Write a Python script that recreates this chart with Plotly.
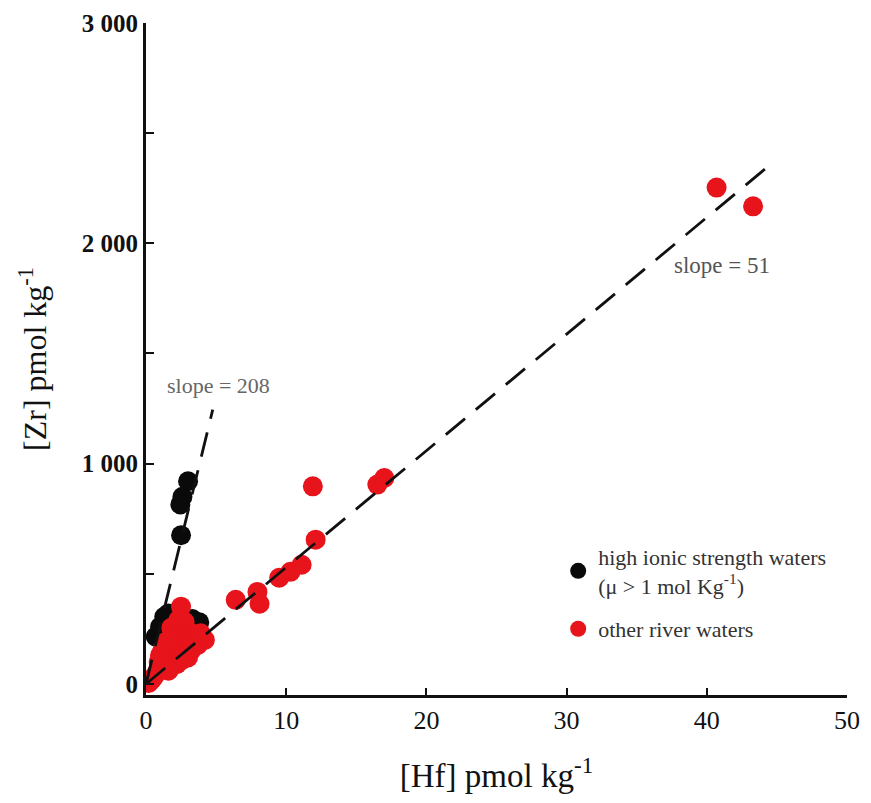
import plotly.graph_objects as go

# ---- data ----
# high ionic strength waters (mu > 1 mol/kg)
high_hf = [3.0, 2.6, 2.45, 2.5, 1.3, 0.7, 1.0, 2.0, 3.3, 3.8, 1.6]
high_zr = [920, 850, 815, 675, 305, 215, 260, 300, 295, 280, 320]

# other river waters
river_hf = [40.7, 43.3, 11.9, 16.5, 17.0, 12.1, 10.3, 11.1, 9.5, 7.95, 8.1, 6.4,
            2.5, 0.2, 0.4, 0.8, 1.2, 1.7, 1.5, 2.1, 2.5, 2.0, 2.8, 3.25, 3.7, 4.2,
            2.4, 3.1, 1.8, 2.75, 1.0, 1.4, 2.2, 3.0, 3.5, 0.6, 1.2, 2.0, 2.6,
            3.3, 1.6, 2.3, 3.9, 0.9, 1.9]
river_zr = [2253, 2168, 897, 905, 935, 655, 509, 541, 482, 418, 364, 382,
            351, 5, 18, 55, 86, 100, 155, 132, 164, 200, 200, 155, 177, 200,
            245, 236, 255, 282, 130, 190, 90, 120, 220, 35, 160, 230, 110,
            190, 60, 290, 230, 100, 210]

# fitted lines (end points)
line51_hf = [0, 44.3]
line51_zr = [0, 2345]
line208_hf = [0, 4.76]
line208_zr = [0, 1245]

x_ticks = [0, 10, 20, 30, 40, 50]
y_ticks = [0, 1000, 2000, 3000]
y_ticklabels = ["0", "1 000", "2 000", "3 000"]
y_minor = [500, 1500, 2500]

SERIF = "Liberation Serif"
DASH = "25px,14px"

fig = go.Figure()

fig.add_trace(go.Scatter(
    x=high_hf, y=high_zr, mode="markers", legendgroup="a",
    name="high ionic strength waters<br>(μ > 1 mol Kg<sup>-1</sup>)",
    marker=dict(color="#0a0a0a", size=20, line=dict(width=0)),
))
fig.add_trace(go.Scatter(
    x=river_hf, y=river_zr, mode="markers", legendgroup="b",
    name="other river waters",
    marker=dict(color="#e8141b", size=20, line=dict(width=0)),
))
fig.add_trace(go.Scatter(
    x=line51_hf, y=line51_zr, mode="lines", showlegend=False,
    line=dict(color="#111111", width=2.8, dash=DASH),
))
fig.add_trace(go.Scatter(
    x=line208_hf, y=line208_zr, mode="lines", showlegend=False,
    line=dict(color="#111111", width=2.8, dash=DASH),
))

fig.add_annotation(x=41.1, y=1898, text="slope = 51", showarrow=False,
                   font=dict(family=SERIF, size=23, color="#555555"))
fig.add_annotation(x=5.2, y=1356, text="slope = 208", showarrow=False,
                   font=dict(family=SERIF, size=22, color="#666666"))

# the page body adds an 8 px offset, so the figure is made 8 px smaller
fig.update_layout(
    width=863, height=787,
    margin=dict(l=138, r=24, t=15, b=100),
    paper_bgcolor="white", plot_bgcolor="white",
    showlegend=True,
    legend=dict(x=0.588, y=0.237, xanchor="left", yanchor="top",
                font=dict(family=SERIF, size=22, color="#333333"),
                bgcolor="rgba(0,0,0,0)", traceorder="grouped", tracegroupgap=12),
    font=dict(family=SERIF, color="#111111"),
)

fig.update_xaxes(
    range=[0, 50], tickvals=x_ticks, ticktext=[str(v) for v in x_ticks],
    automargin=False,
    showline=True, linecolor="#111111", linewidth=3,
    ticks="inside", ticklen=7, tickwidth=2, tickcolor="#111111",
    showgrid=False, zeroline=False,
    tickfont=dict(family=SERIF, size=26, color="#111111"),
    title=dict(text="[Hf] pmol kg<sup>-1</sup>", standoff=30,
               font=dict(family=SERIF, size=33, color="#111111")),
)
fig.update_yaxes(
    range=[-50, 3000], tickvals=y_ticks, ticktext=["<b>%s</b>" % t for t in y_ticklabels],
    automargin=False,
    showline=True, linecolor="#111111", linewidth=3,
    ticks="inside", ticklen=8, tickwidth=2, tickcolor="#111111",
    minor=dict(tickvals=y_minor, ticks="inside", ticklen=8, tickwidth=2, tickcolor="#111111"),
    showgrid=False, zeroline=False,
    tickfont=dict(family=SERIF, size=25, color="#111111"),
    title=dict(text="[Zr] pmol kg<sup>-1</sup>", standoff=26,
               font=dict(family=SERIF, size=32, color="#111111")),
)

fig.write_html("out.html")
